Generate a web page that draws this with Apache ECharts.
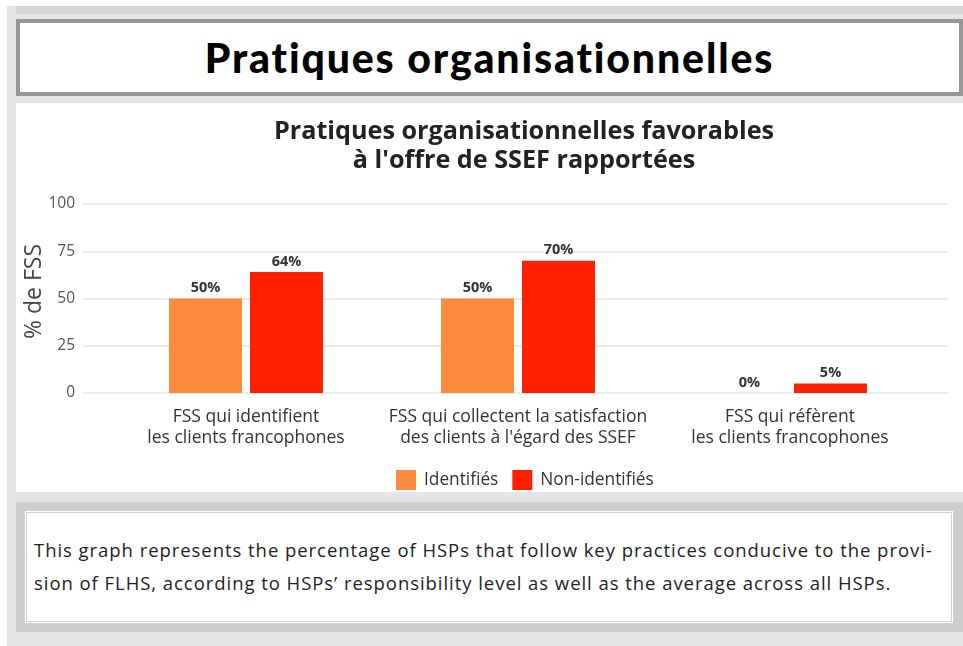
<!DOCTYPE html>
<html>
<head>
<meta charset="utf-8">
<script src="https://cdn.jsdelivr.net/npm/echarts@6/dist/echarts.min.js"></script>
<style>
  html, body { margin: 0; padding: 0; background: #fff; }
  body { width: 963px; height: 646px; position: relative; overflow: hidden; font-family: "Open Sans", "Noto Sans", sans-serif; }
  .back { position: absolute; left: 7px; top: 6px; width: 956px; height: 640px; background: #e5e5e5; }
  .topband { position: absolute; left: 16px; top: 6px; width: 947px; height: 8px; background: #d6d6d6; }
  .titlebox { position: absolute; left: 16px; top: 19px; width: 939px; height: 69px; border: 4px solid #979797; background: #fff;
              text-align: center; font-family: Lato, sans-serif; font-weight: 900; font-size: 41px; line-height: 69px; color: #000; letter-spacing: 1.85px; }
  .panel { position: absolute; left: 16px; top: 103px; width: 947px; height: 389px; background: #fff; }
  .descout { position: absolute; left: 16px; top: 502px; width: 947px; height: 130px; background: #cdcdcd; }
  .descin { position: absolute; left: 24px; top: 510px; width: 924px; height: 108px; background: #fff;
            border: 3px double #d0d0d0; }
  .desctext { position: absolute; left: 34px; top: 533px; width: 915px; font-size: 18.5px; line-height: 33px; color: #222; letter-spacing: 0.95px; white-space: nowrap; }
  #chart { position: absolute; left: 0; top: 0; width: 963px; height: 646px; }
</style>
</head>
<body>
<div class="back"></div>
<div class="topband"></div>
<div class="titlebox">Pratiques organisationnelles</div>
<div class="panel"></div>
<div class="descout"></div>
<div class="descin"></div>
<div class="desctext">This graph represents the percentage of HSPs that follow key practices conducive to the provi-<br>sion of FLHS, according to HSPs’ responsibility level as well as the average across all HSPs.</div>
<div id="chart"></div>
<script>
var categories = [
    'FSS qui identifient\nles clients francophones',
    'FSS qui collectent la satisfaction\ndes clients à l\'égard des SSEF',
    'FSS qui réfèrent\nles clients francophones'
];
var identifies = [50, 50, 0];
var nonIdentifies = [64, 70, 5];
var yTicks = [0, 25, 50, 75, 100];

var FONT = 'Open Sans';
var chart = echarts.init(document.getElementById('chart'), null, { renderer: 'canvas' });

var barLabel = {
    show: true,
    position: 'top',
    distance: 3,
    formatter: '{c}%',
    fontFamily: FONT,
    fontWeight: 'bold',
    fontSize: 14.5,
    color: '#333'
};

chart.setOption({
    backgroundColor: 'transparent',
    textStyle: { fontFamily: FONT },
    title: {
        text: 'Pratiques organisationnelles favorables\nà l\'offre de SSEF rapportées',
        left: 519,
        top: 112,
        textAlign: 'center',
        textStyle: { fontSize: 25.2, fontWeight: 'bold', color: '#222', lineHeight: 29, fontFamily: FONT }
    },
    legend: {
        data: ['Identifiés', 'Non-identifiés'],
        left: 391,
        top: 465,
        itemWidth: 20,
        itemHeight: 20,
        itemGap: 14,
        icon: 'rect',
        textStyle: { fontSize: 17.3, color: '#333', fontFamily: FONT, padding: [0, 0, 0, 3] }
    },
    grid: [
        { left: 110, right: 37, top: 204, height: 189 },
        { left: 83, right: 15, top: 204, height: 189 }
    ],
    xAxis: [
        {
            type: 'category',
            gridIndex: 0,
            data: categories,
            axisLine: { show: false },
            axisTick: { show: false },
            axisLabel: { color: '#333', fontSize: 17.5, lineHeight: 21, margin: 14, interval: 0, fontFamily: FONT }
        },
        { type: 'value', gridIndex: 1, show: false }
    ],
    yAxis: [
        { type: 'value', gridIndex: 0, min: 0, max: 100, show: false },
        {
            type: 'value',
            gridIndex: 1,
            min: yTicks[0],
            max: yTicks[yTicks.length - 1],
            interval: 25,
            name: '% de FSS',
            nameLocation: 'middle',
            nameGap: 37,
            nameMoveOverlap: false,
            nameTextStyle: { fontSize: 23, color: '#444', fontFamily: FONT, padding: [0, 0, 0, 14] },
            axisLine: { show: false },
            axisTick: { show: false },
            axisLabel: { color: '#555', fontSize: 15.5, margin: 8, fontFamily: FONT },
            splitLine: { lineStyle: { color: '#e4e4e4', width: 1.5 } }
        }
    ],
    series: [
        {
            name: 'Identifiés',
            type: 'bar',
            xAxisIndex: 0,
            yAxisIndex: 0,
            data: identifies,
            barWidth: 73,
            barGap: '11%',
            itemStyle: { color: '#fc8c3d' },
            label: barLabel,
            z: 3
        },
        {
            name: 'Non-identifiés',
            type: 'bar',
            xAxisIndex: 0,
            yAxisIndex: 0,
            data: nonIdentifies,
            barWidth: 73,
            barGap: '11%',
            itemStyle: { color: '#ff2000' },
            label: barLabel,
            z: 3
        }
    ]
});
</script>
</body>
</html>
